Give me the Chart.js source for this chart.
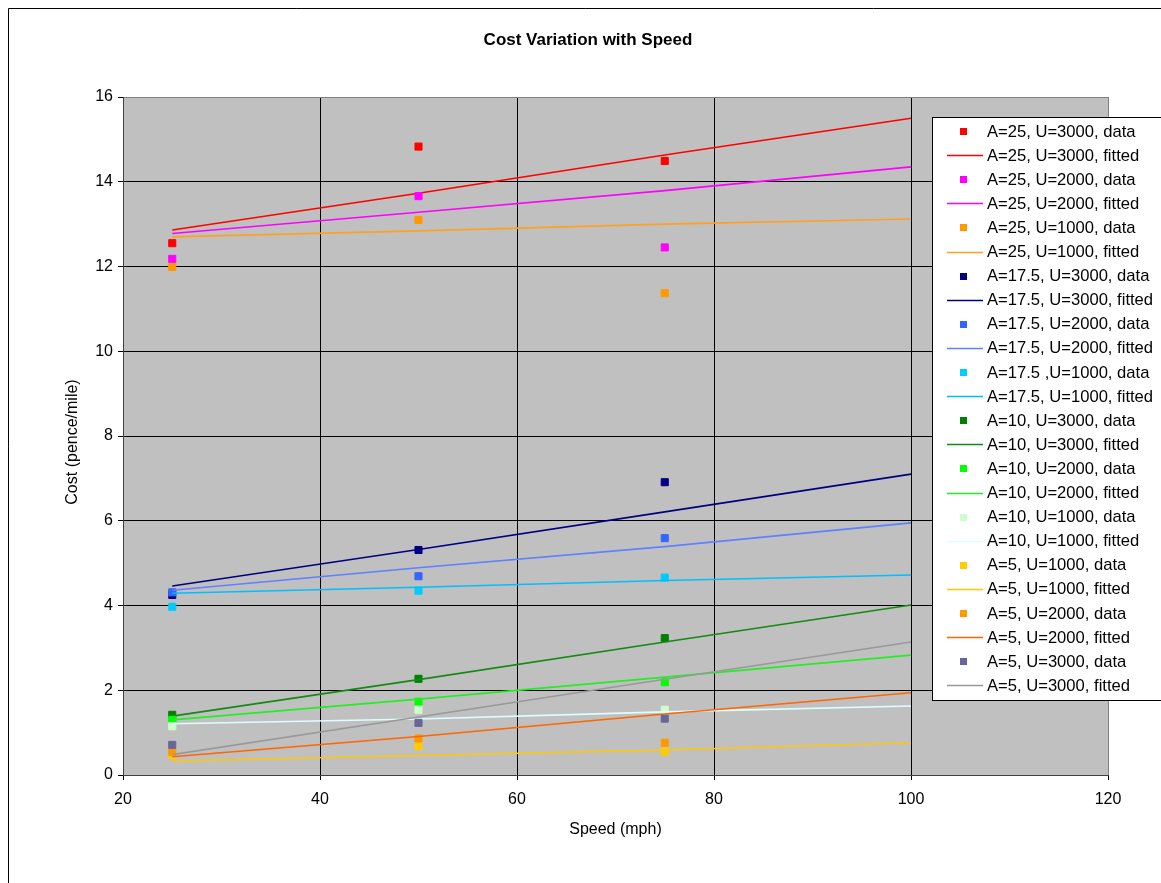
<!DOCTYPE html>
<html>
<head>
<meta charset="utf-8">
<title>Cost Variation with Speed</title>
<script src="https://cdn.jsdelivr.net/npm/chart.js@4/dist/chart.umd.min.js"></script>
<style>
  html, body { margin: 0; padding: 0; background: #ffffff; }
  #wrap { position: absolute; left: 0; top: 0; width: 1161px; height: 883px; }
</style>
</head>
<body>
<div id="wrap"><canvas id="c" width="1161" height="883"></canvas></div>
<script>
// Speeds (mph) at which costs were measured and at which the fitted curves are evaluated
const dataSpeeds = [25, 50, 75];
const fitSpeeds = [25, 50, 75, 100];

// Measured cost (pence/mile) and fitted curves, per wing area A and utilisation U
const a25u3000Data = [12.55, 14.83, 14.49];
const a25u3000Fit = [12.86, 13.73, 14.63, 15.50];
const a25u2000Data = [12.18, 13.66, 12.45];
const a25u2000Fit = [12.78, 13.28, 13.79, 14.35];
const a25u1000Data = [11.99, 13.10, 11.37];
const a25u1000Fit = [12.70, 12.84, 13.00, 13.12];
const a175u3000Data = [4.25, 5.31, 6.91];
const a175u3000Fit = [4.46, 5.32, 6.21, 7.10];
const a175u2000Data = [4.31, 4.69, 5.59];
const a175u2000Fit = [4.36, 4.89, 5.39, 5.95];
const a175u1000Data = [3.97, 4.35, 4.66];
const a175u1000Fit = [4.29, 4.43, 4.59, 4.72];
const a10u3000Data = [1.42, 2.27, 3.23];
const a10u3000Fit = [1.39, 2.25, 3.14, 4.01];
const a10u2000Data = [1.30, 1.73, 2.19];
const a10u2000Fit = [1.30, 1.79, 2.31, 2.83];
const a10u1000Data = [1.15, 1.54, 1.54];
const a10u1000Fit = [1.21, 1.32, 1.49, 1.63];
const a5u1000Data = [0.47, 0.68, 0.55];
const a5u1000Fit = [0.33, 0.46, 0.59, 0.76];
const a5u2000Data = [0.54, 0.86, 0.76];
const a5u2000Fit = [0.43, 0.91, 1.44, 1.94];
const a5u3000Data = [0.71, 1.23, 1.33];
const a5u3000Fit = [0.48, 1.37, 2.26, 3.14];

// Axis tick values
const xTicks = [20, 40, 60, 80, 100, 120];
const yTicks = [0, 2, 4, 6, 8, 10, 12, 14, 16];

const chartTitle = 'Cost Variation with Speed';
const xTitle = 'Speed (mph)';
const yTitle = 'Cost (pence/mile)';

const FONT = '"Liberation Sans", Arial, Helvetica, sans-serif';

function pts(xs, ys) { return xs.map((x, i) => ({ x: x, y: ys[i] })); }

function dataSet(label, values, color) {
  return {
    label: label, data: pts(dataSpeeds, values), showLine: false,
    pointStyle: 'rect', pointRadius: 5, pointHoverRadius: 5,
    pointBackgroundColor: color, pointBorderColor: color, pointBorderWidth: 1,
    backgroundColor: color, borderColor: color
  };
}
function fitSet(label, values, color) {
  return {
    label: label, data: pts(fitSpeeds, values), showLine: true,
    pointRadius: 0, pointHoverRadius: 0, borderWidth: 1.6,
    borderColor: color, backgroundColor: color, tension: 0
  };
}

const datasets = [
  dataSet('A=25, U=3000, data', a25u3000Data, '#FF0000'),
  fitSet('A=25, U=3000, fitted', a25u3000Fit, '#FF0000'),
  dataSet('A=25, U=2000, data', a25u2000Data, '#FF00FF'),
  fitSet('A=25, U=2000, fitted', a25u2000Fit, '#FF00FF'),
  dataSet('A=25, U=1000, data', a25u1000Data, '#FF9900'),
  fitSet('A=25, U=1000, fitted', a25u1000Fit, '#FFA020'),
  dataSet('A=17.5, U=3000, data', a175u3000Data, '#000080'),
  fitSet('A=17.5, U=3000, fitted', a175u3000Fit, '#000080'),
  dataSet('A=17.5, U=2000, data', a175u2000Data, '#3366FF'),
  fitSet('A=17.5, U=2000, fitted', a175u2000Fit, '#5F80FF'),
  dataSet('A=17.5 ,U=1000, data', a175u1000Data, '#00CCFF'),
  fitSet('A=17.5, U=1000, fitted', a175u1000Fit, '#00BFFF'),
  dataSet('A=10, U=3000, data', a10u3000Data, '#008000'),
  fitSet('A=10, U=3000, fitted', a10u3000Fit, '#138A13'),
  dataSet('A=10, U=2000, data', a10u2000Data, '#00FF00'),
  fitSet('A=10, U=2000, fitted', a10u2000Fit, '#22EE22'),
  dataSet('A=10, U=1000, data', a10u1000Data, '#CCFFCC'),
  fitSet('A=10, U=1000, fitted', a10u1000Fit, '#DDFFFF'),
  dataSet('A=5, U=1000, data', a5u1000Data, '#FFCC00'),
  fitSet('A=5, U=1000, fitted', a5u1000Fit, '#FFC800'),
  dataSet('A=5, U=2000, data', a5u2000Data, '#FF9900'),
  fitSet('A=5, U=2000, fitted', a5u2000Fit, '#FF6600'),
  dataSet('A=5, U=3000, data', a5u3000Data, '#666699'),
  fitSet('A=5, U=3000, fitted', a5u3000Fit, '#999999')
];
// later series are painted over earlier ones
datasets.forEach((d, i) => { d.order = -i; });

// Frame, plot background, titles and the boxed legend
const decorations = {
  id: 'decorations',
  beforeDraw(chart) {
    const ctx = chart.ctx, a = chart.chartArea;
    ctx.save();
    ctx.fillStyle = '#ffffff';
    ctx.fillRect(0, 0, chart.width, chart.height);
    ctx.strokeStyle = '#000000';
    ctx.lineWidth = 1;
    ctx.beginPath();
    ctx.moveTo(8.5, chart.height + 2);
    ctx.lineTo(8.5, 8.5);
    ctx.lineTo(chart.width + 2, 8.5);
    ctx.stroke();
    ctx.fillStyle = '#C0C0C0';
    ctx.fillRect(a.left, a.top, a.right - a.left, a.bottom - a.top);
    ctx.restore();
  },
  afterDraw(chart) {
    const ctx = chart.ctx, a = chart.chartArea;
    ctx.save();
    ctx.fillStyle = '#000000';
    ctx.textAlign = 'center';
    ctx.textBaseline = 'middle';
    ctx.font = 'bold 17px ' + FONT;
    ctx.fillText(chartTitle, 588, 40);
    ctx.font = '16px ' + FONT;
    ctx.fillText(xTitle, (a.left + a.right) / 2, 830);
    ctx.translate(73, (a.top + a.bottom) / 2 + 6);
    ctx.rotate(-Math.PI / 2);
    ctx.fillText(yTitle, 0, 0);
    ctx.restore();

    // legend box
    const bx = 932.5, by = 117.5, bw = 260, bh = 583;
    ctx.save();
    ctx.fillStyle = '#ffffff';
    ctx.fillRect(bx, by, bw, bh);
    ctx.strokeStyle = '#000000';
    ctx.lineWidth = 1;
    ctx.strokeRect(bx, by, bw, bh);
    ctx.font = '16.6px ' + FONT;
    ctx.textAlign = 'left';
    ctx.textBaseline = 'middle';
    chart.data.datasets.forEach((d, i) => {
      const y = 131 + i * 24.1;
      if (d.showLine) {
        ctx.strokeStyle = d.borderColor;
        ctx.lineWidth = 1.6;
        ctx.beginPath();
        ctx.moveTo(947, Math.round(y) + 0.5);
        ctx.lineTo(983, Math.round(y) + 0.5);
        ctx.stroke();
      } else {
        ctx.fillStyle = d.pointBackgroundColor;
        ctx.fillRect(960, Math.round(y) - 3, 7, 7);
      }
      ctx.fillStyle = '#000000';
      ctx.fillText(d.label, 987, y + 1);
    });
    ctx.restore();
  }
};

new Chart(document.getElementById('c'), {
  type: 'scatter',
  data: { datasets: datasets },
  plugins: [decorations],
  options: {
    responsive: false,
    animation: false,
    events: [],
    layout: { padding: { left: 0, right: 53, top: 97, bottom: 0 } },
    plugins: { legend: { display: false }, title: { display: false }, tooltip: { enabled: false } },
    scales: {
      x: {
        type: 'linear', min: 20, max: 120,
        afterFit(s) { s.height = 108; },
        afterBuildTicks(s) { s.ticks = xTicks.map(v => ({ value: v })); },
        ticks: { color: '#000', padding: 10, font: { family: FONT, size: 16 }, maxRotation: 0 },
        grid: {
          color: c => (c.tick && (c.tick.value === 20 || c.tick.value === 120)) ? '#808080' : '#000000',
          lineWidth: 1, tickLength: 5, tickColor: '#000000', drawOnChartArea: true
        },
        border: { color: '#404040', width: 1 }
      },
      y: {
        type: 'linear', min: 0, max: 16,
        afterFit(s) { s.width = 123; },
        afterBuildTicks(s) { s.ticks = yTicks.map(v => ({ value: v })); },
        ticks: { color: '#000', padding: 5, font: { family: FONT, size: 16 } },
        grid: {
          color: c => (c.tick && (c.tick.value === 0 || c.tick.value === 16)) ? '#808080' : '#000000',
          lineWidth: 1, tickLength: 5, tickColor: '#000000'
        },
        border: { color: '#404040', width: 1 }
      }
    }
  }
});
</script>
</body>
</html>
